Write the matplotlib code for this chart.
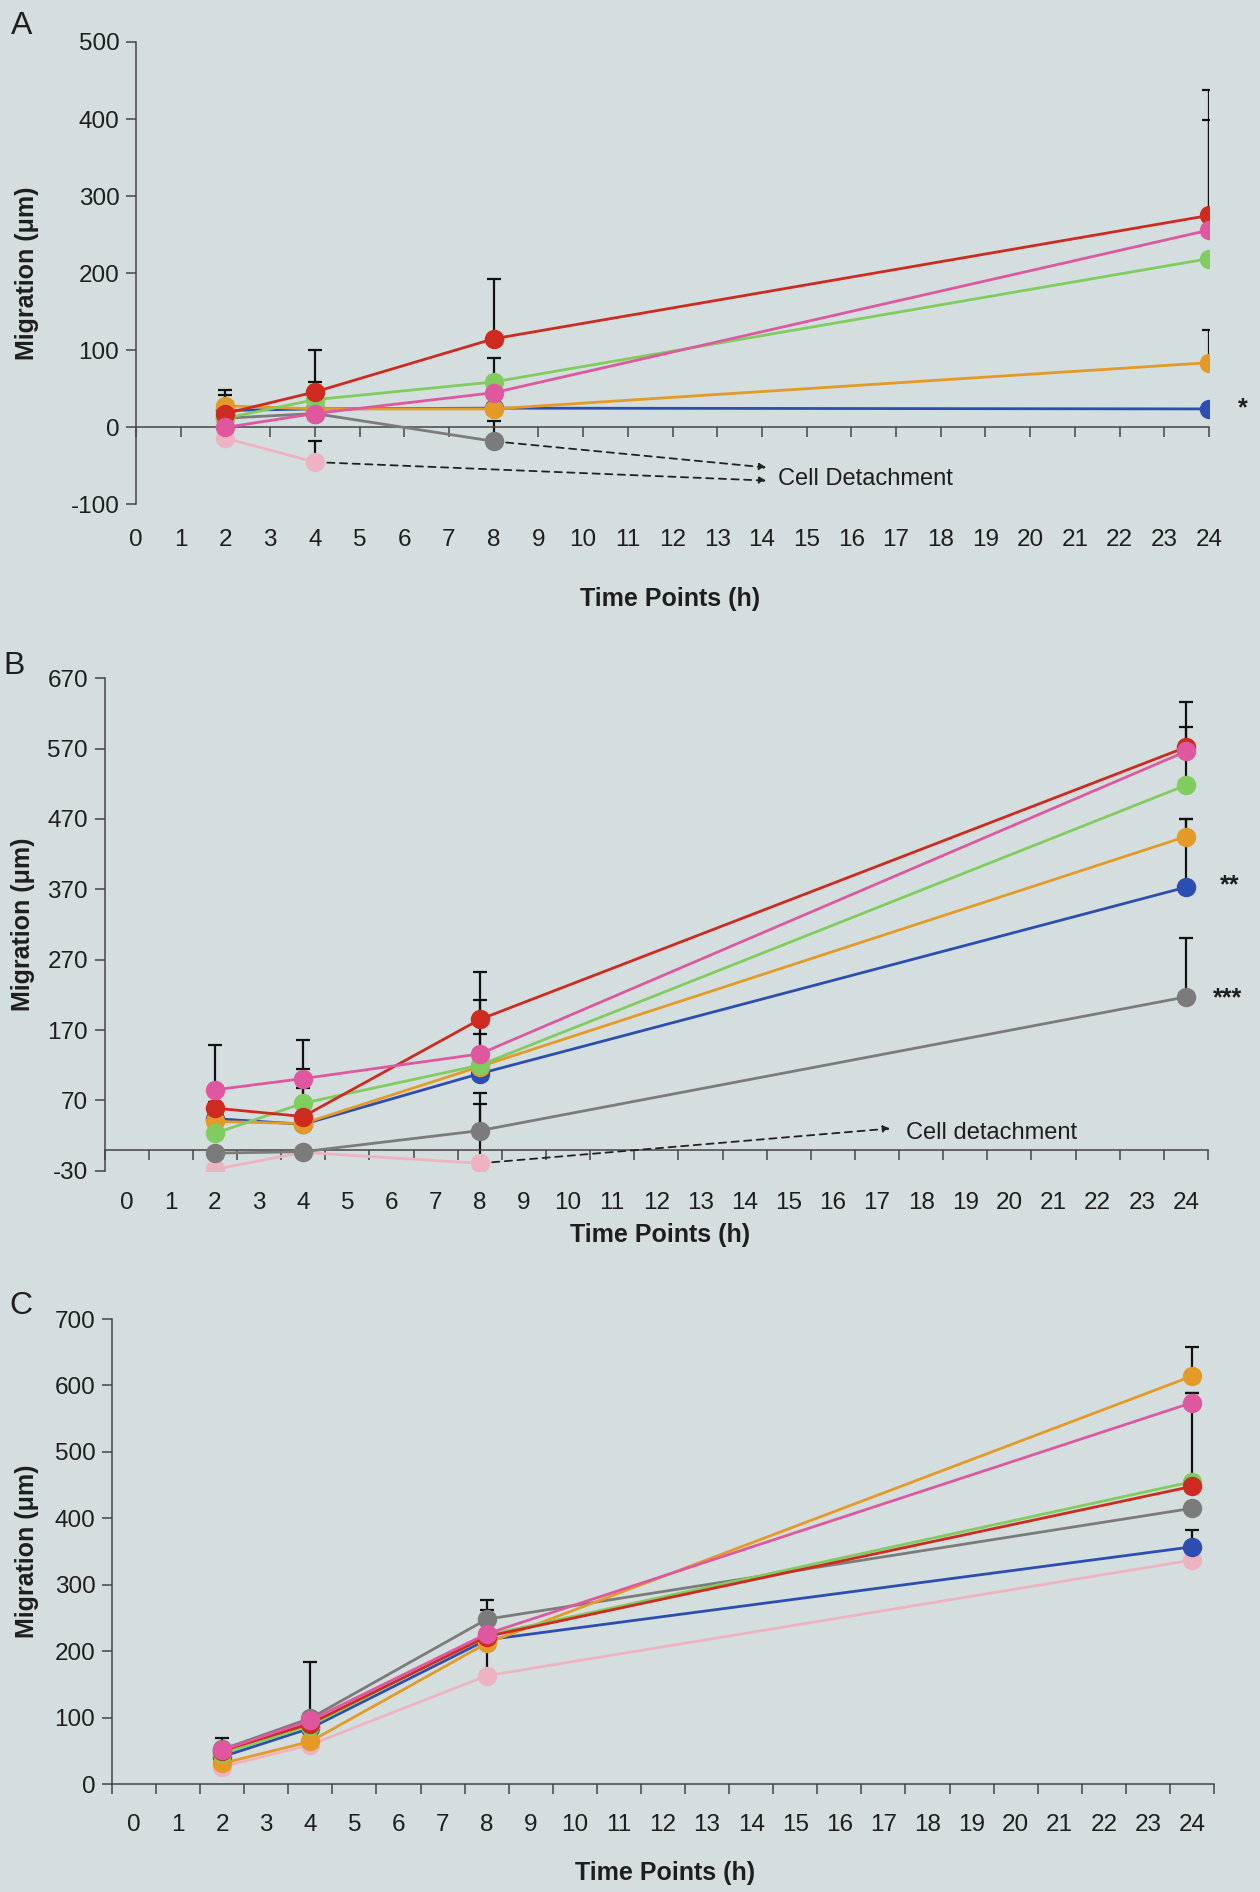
import numpy as np
import matplotlib
matplotlib.use("Agg")
import matplotlib.pyplot as plt
import matplotlib.transforms as mtransforms

plt.rcParams['font.family'] = ['Liberation Sans', 'DejaVu Sans']

# ---------------- data ----------------
hours = [2, 4, 8, 24]
x_labels = [str(i) for i in range(25)]
series_names = ["lightpink", "blue", "gray", "orange", "green", "red", "magenta"]
nan = np.nan

# Panel A
A_red = [18, 46, 115, 275]
A_magenta = [0, 18, 45, 256]
A_green = [12, 36, 59, 219]
A_orange = [28, 24, 24, 84]
A_blue = [22, 24, 25, 24]
A_gray = [12, 18, -18, nan]
A_lightpink = [-14, -45, nan, nan]
A_err_red = [24, 54, 78, 163]
A_err_magenta = [0, 0, 45, 143]
A_err_green = [0, 23, 0, 0]
A_err_orange = [21, 0, 0, 43]
A_err_blue = [0, 0, 0, 0]
A_err_gray = [0, 0, 26, 0]
A_err_lightpink = [0, 27, 0, 0]

# Panel B
B_red = [59, 47, 185, 572]
B_magenta = [85, 101, 136, 566]
B_green = [23, 66, 120, 518]
B_orange = [40, 37, 118, 445]
B_blue = [44, 36, 108, 373]
B_gray = [-5, -3, 27, 217]
B_lightpink = [-28, -4, -19.5, nan]
B_err_red = [8, 40, 67, 65]
B_err_magenta = [64, 55, 76, 35]
B_err_green = [0, 48, 0, 61]
B_err_orange = [0, 0, 0, 25]
B_err_blue = [0, 0, 57, 97]
B_err_gray = [0, 0, 54, 84]
B_err_lightpink = [0, 0, 84, 0]

# Panel C
C_red = [50, 91, 222, 448]
C_magenta = [51, 96, 226, 574]
C_green = [46, 88, 224, 455]
C_orange = [31, 64, 212, 614]
C_blue = [41, 84, 217, 357]
C_gray = [52, 99, 248, 415]
C_lightpink = [26, 59, 163, 337]
C_err_red = [0, 0, 0, 0]
C_err_magenta = [0, 0, 0, 14]
C_err_green = [0, 0, 0, 133]
C_err_orange = [0, 0, 0, 44]
C_err_blue = [0, 0, 45, 26]
C_err_gray = [17, 84, 29, 0]
C_err_lightpink = [0, 0, 50, 0]

A_yticks = [-100, 0, 100, 200, 300, 400, 500]
B_yticks = [-30, 70, 170, 270, 370, 470, 570, 670]
C_yticks = [0, 100, 200, 300, 400, 500, 600, 700]

# ---------------- style ----------------
BG = '#d4dedf'
colors = {
    "red": '#cf2a1f',
    "magenta": '#df589f',
    "green": '#80cc5e',
    "orange": '#e49a26',
    "blue": '#2c4db2',
    "gray": '#7b7b7b',
    "lightpink": '#eeb3c3',
}
AXC = '#444444'
TXT = '#1e1e1e'
TICK_FS = 17.5
LAB_FS = 18

W, H = 1260, 1892
fig = plt.figure(figsize=(W / 100, H / 100), dpi=100, facecolor=BG)


def frac_box(left, right, top, bottom):
    return [left / W, 1 - bottom / H, (right - left) / W, (bottom - top) / H]


def panel(box, data, errs, xlim, ylim, yticks, xticks_minor, ticklab_y, xlab_y,
          xlab_x, ylab_x):
    ax = fig.add_axes(box)
    ax.set_facecolor(BG)
    for name in series_names:
        y = np.array(data[name], dtype=float)
        e = np.array(errs[name], dtype=float)
        mask = e > 0
        if mask.any():
            xs = np.array(hours)[mask]
            ax.errorbar(xs, y[mask], yerr=[np.zeros(mask.sum()), e[mask]],
                        fmt='none', ecolor='#111111', elinewidth=1.6,
                        capsize=5, capthick=1.6, zorder=2)
    for name in series_names:
        ax.plot(hours, data[name], color=colors[name], lw=2.0, marker='o',
                ms=13, mec=colors[name], mfc=colors[name], zorder=3)
    ax.set_xlim(*xlim)
    ax.set_ylim(*ylim)
    for s in ['top', 'right']:
        ax.spines[s].set_visible(False)
    ax.spines['left'].set_color(AXC)
    ax.spines['left'].set_linewidth(1.1)
    ax.spines['bottom'].set_color(AXC)
    ax.spines['bottom'].set_linewidth(1.1)
    ax.spines['bottom'].set_position(('data', 0))
    ax.set_yticks(yticks)
    ax.set_yticklabels([str(v) for v in yticks])
    ax.tick_params(axis='y', direction='out', length=7, width=1.1, color=AXC,
                   labelsize=TICK_FS, labelcolor=TXT, pad=5)
    ax.set_xticks(xticks_minor)
    ax.tick_params(axis='x', direction='out', length=7, width=1.1, color=AXC,
                   labelbottom=False)
    # category labels placed low, below the plotting area
    trans = mtransforms.blended_transform_factory(ax.transData, fig.transFigure)
    for i, lab in enumerate(x_labels):
        ax.text(i, 1 - ticklab_y / H, lab, transform=trans, fontsize=TICK_FS,
                color=TXT, ha='center', va='center', clip_on=False)
    fig.text(xlab_x / W, 1 - xlab_y / H, 'Time Points (h)', fontsize=LAB_FS,
             fontweight='bold', color=TXT, ha='center', va='center')
    ax.set_ylabel('Migration (\u03bcm)', fontsize=LAB_FS, fontweight='bold', color=TXT)
    ax.yaxis.set_label_coords(ylab_x, 0.5)
    return ax


# Panel A
dA = dict(red=A_red, magenta=A_magenta, green=A_green, orange=A_orange,
          blue=A_blue, gray=A_gray, lightpink=A_lightpink)
eA = dict(red=A_err_red, magenta=A_err_magenta, green=A_err_green,
          orange=A_err_orange, blue=A_err_blue, gray=A_err_gray,
          lightpink=A_err_lightpink)
axA = panel(frac_box(136, 1209, 42, 504.5), dA, eA, (0, 24), (-100, 500),
            A_yticks, list(range(25)), 540, 599, 670, -0.090)

# Panel B
dB = dict(red=B_red, magenta=B_magenta, green=B_green, orange=B_orange,
          blue=B_blue, gray=B_gray, lightpink=B_lightpink)
eB = dict(red=B_err_red, magenta=B_err_magenta, green=B_err_green,
          orange=B_err_orange, blue=B_err_blue, gray=B_err_gray,
          lightpink=B_err_lightpink)
axB = panel(frac_box(104.6, 1208, 678.3, 1170.7), dB, eB, (-0.5, 24.5), (-30, 670),
            B_yticks, [i - 0.5 for i in range(26)], 1203, 1235, 660, -0.063)

# Panel C
dC = dict(red=C_red, magenta=C_magenta, green=C_green, orange=C_orange,
          blue=C_blue, gray=C_gray, lightpink=C_lightpink)
eC = dict(red=C_err_red, magenta=C_err_magenta, green=C_err_green,
          orange=C_err_orange, blue=C_err_blue, gray=C_err_gray,
          lightpink=C_err_lightpink)
axC = panel(frac_box(112, 1214, 1319, 1784), dC, eC, (-0.5, 24.5), (0, 700),
            C_yticks, [i - 0.5 for i in range(26)], 1825, 1873, 665, -0.066)

# ---------------- annotations ----------------
def dashed_arrow(ax, start, end):
    ax.annotate('', xy=end, xytext=start,
                arrowprops=dict(arrowstyle='-|>', color='#222222', lw=1.3,
                                linestyle=(0, (4, 3)), mutation_scale=10,
                                shrinkA=9, shrinkB=0), zorder=4)

dashed_arrow(axA, (8, -18), (14.1, -52))
dashed_arrow(axA, (4, -45), (14.1, -69))
axA.text(14.35, -67, 'Cell Detachment', fontsize=17, color=TXT, ha='left', va='center')
axA.text(24.75, 25, '*', fontsize=18, color=TXT, ha='center', va='center', fontweight='bold')

dashed_arrow(axB, (8, -19.5), (17.3, 30))
axB.text(17.65, 24, 'Cell detachment', fontsize=17, color=TXT, ha='left', va='center')
axB.text(25.0, 375, '**', fontsize=18, color=TXT, ha='center', va='center', fontweight='bold')
axB.text(24.95, 215, '***', fontsize=18, color=TXT, ha='center', va='center', fontweight='bold')

fig.text(21.7 / W, 1 - 26.5 / H, 'A', fontsize=23, color=TXT, ha='center', va='center')
fig.text(14.5 / W, 1 - 666 / H, 'B', fontsize=23, color=TXT, ha='center', va='center')
fig.text(20.5 / W, 1 - 1306 / H, 'C', fontsize=23, color=TXT, ha='center', va='center')

fig.savefig('out.png', dpi=100, facecolor=BG)
